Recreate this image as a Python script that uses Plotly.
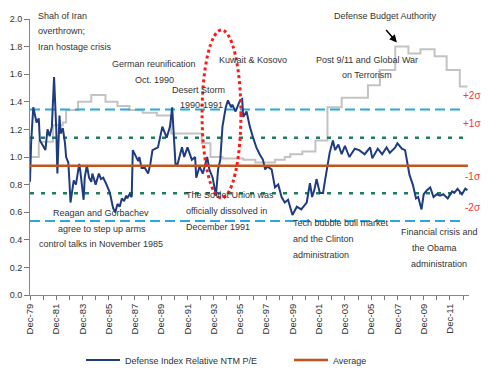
import plotly.graph_objects as go

# ---------------- data ----------------
blue_dates = ["1979-12","1980-01","1980-03","1980-06","1980-08","1980-09","1980-12","1981-02","1981-04","1981-06",
              "1981-08","1981-10","1981-12","1982-01","1982-03","1982-04","1982-06","1982-08","1982-09","1982-11",
              "1982-12","1983-01","1983-04","1983-06","1983-09","1983-10","1984-01","1984-02","1984-04","1984-06",
              "1984-08","1984-09","1984-12","1985-03","1985-05","1985-07","1985-10","1986-01","1986-04","1986-06",
              "1986-08","1986-10","1986-12","1987-02","1987-04","1987-05","1987-07","1987-09","1987-10","1988-01",
              "1988-03","1988-04","1988-06","1988-09","1988-12","1989-02","1989-04","1989-09","1990-01","1990-05",
              "1990-08","1990-10","1990-11","1991-01","1991-03","1991-07","1991-09","1991-12","1992-04","1992-07",
              "1992-08","1992-11","1993-02","1993-06","1993-08","1993-11","1994-02","1994-04","1994-06","1994-08",
              "1994-11","1995-01","1995-04","1995-05","1995-08","1995-12","1996-02","1996-03","1996-06","1996-09",
              "1996-12","1997-03","1997-06","1997-09","1997-11","1998-01","1998-05","1998-08","1998-11","1999-02",
              "1999-05","1999-08","1999-12","2000-04","2000-08","2001-01","2001-04","2001-06","2001-08","2001-10",
              "2002-01","2002-04","2002-06","2002-08","2002-10","2003-01","2003-03","2003-06","2003-09","2003-12",
              "2004-04","2004-09","2005-01","2005-06","2005-11","2006-01","2006-06","2006-10","2007-02","2007-05",
              "2007-10","2007-12","2008-04","2008-07","2008-09","2008-11","2009-02","2009-05","2009-07","2009-10",
              "2009-12","2010-03","2010-06","2010-09","2010-12","2011-03","2011-06","2011-10","2012-02","2012-04",
              "2012-07","2012-11","2013-02","2013-04"]
relative_pe = [0.82,1.10,1.36,1.25,1.28,1.12,1.08,1.05,1.20,1.15,
               1.22,1.58,1.20,0.88,1.30,1.17,1.21,1.10,1.00,0.96,
               0.83,0.67,0.83,0.80,0.95,0.90,0.69,0.85,0.94,0.85,
               0.82,0.88,0.80,0.88,0.84,0.85,0.80,0.74,0.63,0.60,
               0.66,0.64,0.70,0.68,0.72,0.70,0.73,0.71,1.05,1.00,
               0.97,1.00,0.92,0.92,0.88,0.95,1.05,1.07,1.22,1.14,
               1.22,1.36,1.22,0.95,0.95,1.07,1.00,1.07,0.98,1.00,
               0.85,0.93,0.88,1.00,0.91,0.85,0.72,0.91,0.98,1.22,
               1.36,1.41,1.36,1.38,1.33,1.41,1.42,1.29,1.33,1.22,
               1.14,1.07,1.02,0.98,0.91,0.93,0.91,0.78,0.80,0.71,
               0.67,0.69,0.58,0.64,0.62,0.67,0.81,0.71,0.76,0.84,
               0.74,0.74,0.84,0.93,1.03,1.12,1.05,1.09,1.02,1.08,
               1.00,1.06,1.05,1.02,1.07,0.99,1.06,1.02,1.07,1.03,
               1.07,1.10,1.06,1.05,0.95,0.87,0.80,0.70,0.71,0.62,
               0.73,0.76,0.78,0.71,0.73,0.72,0.73,0.70,0.75,0.74,
               0.77,0.73,0.77,0.76]

budget_dates = ["1979-12","1980-08","1981-09","1982-06","1982-09","1983-08","1984-08","1985-09","1986-08","1987-07",
                "1988-07","1989-08","1990-09","1993-01","1993-09","1994-08","1996-03","1997-02","1998-08","1999-05",
                "1999-10","2000-09","2001-09","2002-08","2003-09","2005-09","2006-08","2007-10","2008-10","2009-09",
                "2010-10","2011-09","2012-09","2013-04"]
budget_authority = [1.00,1.11,1.23,1.25,1.34,1.40,1.45,1.40,1.37,1.34,
                    1.32,1.30,1.17,1.10,1.00,0.99,0.98,0.96,0.98,1.00,
                    1.02,1.04,1.12,1.36,1.43,1.52,1.63,1.80,1.75,1.78,
                    1.73,1.63,1.51,1.51]

average_value = 0.937
plus2_sigma = 1.345
plus1_sigma = 1.14
minus1_sigma = 0.737
minus2_sigma = 0.536
line_start = "1979-12-01"
avg_end = "2013-04-15"
sigma_end = "2012-12-15"

y_ticks = [0.0, 0.2, 0.4, 0.6, 0.8, 1.0, 1.2, 1.4, 1.6, 1.8, 2.0]

# ---------------- layout helpers ----------------
L, R, T, B = 30, 21, 19, 82
W, H = 490, 377
PW, PH = W - L - R, H - T - B

def px(x):
    return (x - L) / PW

def py(y):
    return (H - B - y) / PH

FONT = "Liberation Sans, Arial, sans-serif"
TXT = "#333333"

fig = go.Figure()

fig.add_trace(go.Scatter(x=budget_dates, y=budget_authority, mode="lines",
                         line=dict(color="#C3C3C3", width=2, shape="hv"),
                         showlegend=False, hoverinfo="skip"))

for val, col, dash, wd in [(plus2_sigma, "#2AA8E0", "10px,5px", 2),
                           (minus2_sigma, "#2AA8E0", "10px,5px", 2),
                           (plus1_sigma, "#1E7E5E", "4px,7px", 2.5),
                           (minus1_sigma, "#1E7E5E", "4px,7px", 2.5)]:
    fig.add_trace(go.Scatter(x=[line_start, sigma_end], y=[val, val], mode="lines",
                             line=dict(color=col, width=wd, dash=dash),
                             showlegend=False, hoverinfo="skip"))

fig.add_trace(go.Scatter(x=blue_dates, y=relative_pe, mode="lines",
                         line=dict(color="#1F3C80", width=2),
                         name="Defense Index Relative NTM P/E"))

fig.add_trace(go.Scatter(x=[line_start, avg_end], y=[average_value, average_value], mode="lines",
                         line=dict(color="#C0561E", width=2.5),
                         name="Average"))

# red dotted ellipse
fig.add_shape(type="circle", xref="x", yref="y",
              x0="1993-01-10", x1="1995-12-28", y0=0.703, y1=1.92,
              line=dict(color="#FF1A1A", width=3, dash="dot"))

annotations = []

def txt(text, x, y, anchor="center", size=9, color=TXT):
    annotations.append(dict(text=text, x=px(x), y=py(y), xref="paper", yref="paper",
                            xanchor=anchor, yanchor="middle", showarrow=False,
                            font=dict(family=FONT, size=size, color=color)))

txt("Shah of Iran", 36, 16, "left")
txt("overthrown;", 36, 31, "left")
txt("Iran hostage crisis", 36, 47, "left")
txt("German reunification", 154, 64)
txt("Oct. 1990", 154, 80)
txt("Desert Storm", 198, 90)
txt("1990-1991", 201, 105)
txt("Kuwait & Kosovo", 253, 60)
txt("Post 9/11 and Global War", 367, 60)
txt("on Terrorism", 367, 75)
txt("Defense Budget Authority", 385, 16)
txt("Reagan and Gorbachev", 101, 213)
txt("agree to step up arms", 102, 229)
txt("control talks in November 1985", 101, 244)
txt("The Soviet Union was", 184, 195, "left")
txt("officially dissolved in", 184, 211, "left")
txt("December 1991", 184, 227, "left")
txt("Tech bubble bull market", 291, 223, "left")
txt("and the Clinton", 291, 239, "left")
txt("administration", 291, 255, "left")
txt("Financial crisis and", 439, 232)
txt("the Obama", 434, 248)
txt("administration", 439, 264)

RED = "#F23A3A"
txt("+2σ", 483, 95, "right", 10, RED)
txt("+1σ", 483, 123, "right", 10, RED)
txt("-1σ", 483, 176, "right", 10, RED)
txt("-2σ", 483, 207, "right", 10, RED)

# arrow for Defense Budget Authority
annotations.append(dict(x="2007-11-15", y=1.83, xref="x", yref="y", text="",
                        showarrow=True, ax=-12, ay=-14, axref="pixel", ayref="pixel",
                        arrowhead=2, arrowsize=1, arrowwidth=1.5, arrowcolor="#000000"))

fig.update_layout(
    width=W, height=H,
    margin=dict(l=L, r=R, t=T, b=B, autoexpand=False),
    plot_bgcolor="white", paper_bgcolor="white",
    font=dict(family=FONT, size=9, color=TXT),
    annotations=annotations,
    showlegend=True,
    hovermode=False,
    legend=dict(orientation="h", x=px(81), y=py(360), xanchor="left", yanchor="middle",
                font=dict(family=FONT, size=9, color=TXT), entrywidth=159,
                bgcolor="rgba(0,0,0,0)", itemwidth=34),
)

fig.update_xaxes(
    type="date", range=["1979-12-01", "2013-05-15"],
    tick0="1979-12-01", dtick="M24", tickformat="%b-%y", tickangle=-90,
    ticks="outside", ticklen=4, tickcolor="#777777",
    minor=dict(dtick="M12", tick0="1979-12-01", ticks="outside", ticklen=4, tickcolor="#777777"),
    showline=True, linecolor="#888888", linewidth=1,
    showgrid=False, zeroline=False, automargin=False,
    tickfont=dict(family=FONT, size=9.5, color=TXT),
)
fig.update_yaxes(
    range=[0, 2.0], tickvals=y_ticks, tickformat=".1f",
    ticks="outside", ticklen=5, tickcolor="#777777",
    showline=True, linecolor="#888888", linewidth=1,
    showgrid=False, zeroline=False, automargin=False,
    tickfont=dict(family=FONT, size=9, color=TXT),
)

fig.write_html("out.html", config={"displayModeBar": False},
               post_script="document.body.style.margin='0px';")
